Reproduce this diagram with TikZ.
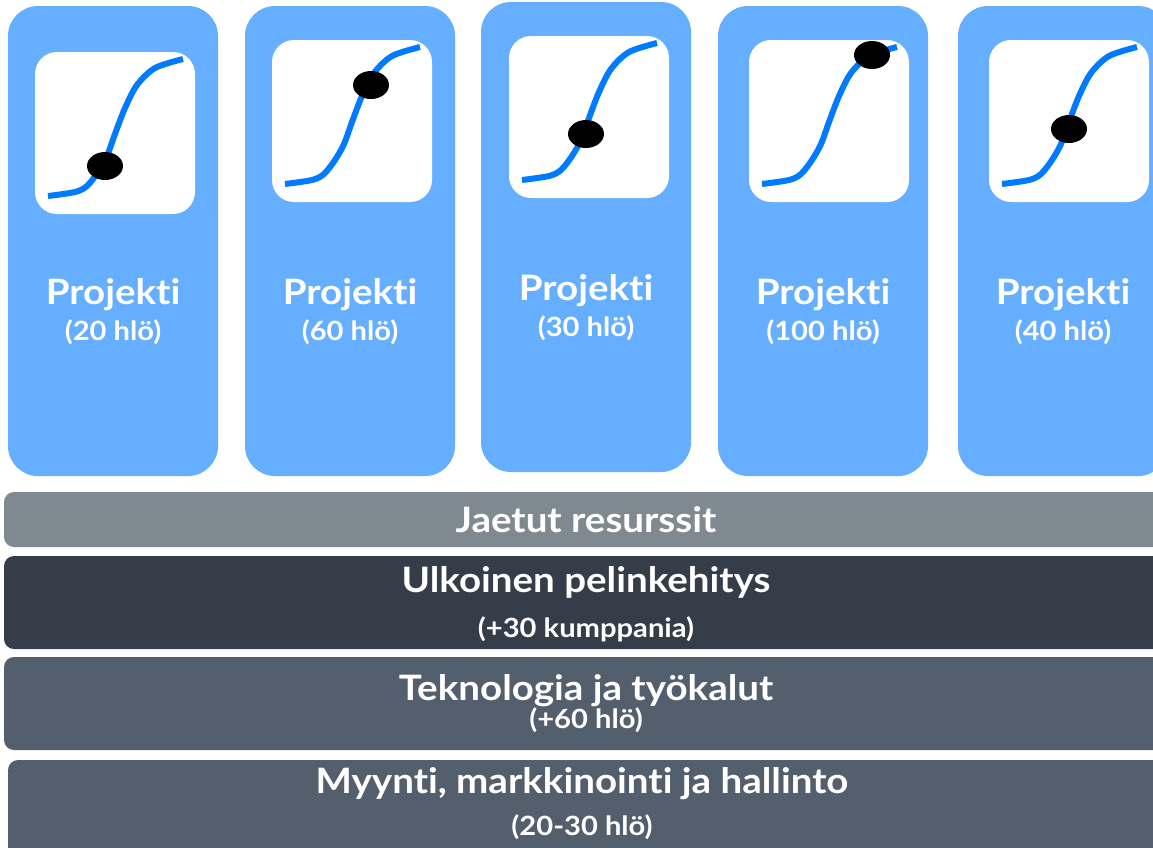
\documentclass[tikz,border=0pt]{standalone}
\usepackage{fontspec}
\setmainfont{Lato}[Ligatures=NoCommon, FakeStretch=1.1]
\definecolor{cardblue}{HTML}{66AEFF}
\definecolor{curveblue}{HTML}{007AFF}
\definecolor{sharedgray}{HTML}{7F8A90}
\definecolor{partnerdark}{HTML}{343D48}
\definecolor{slate}{HTML}{545F6E}
\tikzset{
  card/.style={fill=cardblue, rounded corners=30pt},
  screen/.style={fill=white, rounded corners=22pt},
  bar/.style={rounded corners=10pt},
  title/.style={text=white, anchor=base, inner sep=0pt, font=\bfseries\fontsize{35}{40}\selectfont},
  sub/.style={text=white, anchor=base, inner sep=0pt, font=\bfseries\fontsize{26.5}{30}\selectfont},
  pics/scurve/.style={code={
    \draw[curveblue, line width=6pt] plot[smooth, tension=0.5] coordinates
      {(13,144) (40,140) (52,134) (63,120) (72,104) (80,82) (90,56) (102,33) (120,16) (148,7)};
  }}
}
\begin{document}
\begin{tikzpicture}[x=1pt,y=-1pt]
\useasboundingbox (0,0) rectangle (1153,847);
% project cards
\fill[card] (8,6) rectangle (218,476);
\fill[card] (245,6) rectangle (455,476);
\fill[card] (481,2) rectangle (691,472);
\fill[card] (718,6) rectangle (928,476);
\fill[card] (958,6) rectangle (1168,476);
\fill[screen] (35,52) rectangle (195,214);
\fill[screen] (272,40) rectangle (432,202);
\fill[screen] (509,36) rectangle (669,198);
\fill[screen] (749,40) rectangle (909,202);
\fill[screen] (989,40) rectangle (1149,202);
\pic at (35,52) {scurve};
\pic at (272,40) {scurve};
\pic at (509,36) {scurve};
\pic at (749,40) {scurve};
\pic at (989,40) {scurve};
\fill (105,166) ellipse [x radius=18pt, y radius=14pt];
\fill (371,85) ellipse [x radius=18pt, y radius=14pt];
\fill (586,134) ellipse [x radius=18pt, y radius=14pt];
\fill (872,55) ellipse [x radius=18pt, y radius=14pt];
\fill (1069,129) ellipse [x radius=18pt, y radius=14pt];
\node[title] (p1) at (113,304) {Projekti};
\node[title] (p2) at (350,304) {Projekti};
\node[title] (p3) at (586,300) {Projekti};
\node[title] (p4) at (823,304) {Projekti};
\node[title] (p5) at (1063,304) {Projekti};
\node[sub] (p1n) at (113,340) {(20 hlö)};
\node[sub] (p2n) at (350,340) {(60 hlö)};
\node[sub] (p3n) at (586,336) {(30 hlö)};
\node[sub] (p4n) at (823,340) {(100 hlö)};
\node[sub] (p5n) at (1063,340) {(40 hlö)};
% shared layers
\fill[bar, sharedgray] (4,492) rectangle (1170,547);
\fill[bar, partnerdark] (4,556) rectangle (1170,649);
\fill[bar, slate] (4,657) rectangle (1170,750);
\fill[bar, slate] (8,760) rectangle (1170,870);
\node[title] (shared) at (586,532) {Jaetut resurssit};
\node[title] (ext) at (586,592) {Ulkoinen pelinkehitys};
\node[sub] (extn) at (586,637) {(+30 kumppania)};
\node[title] (tech) at (586,700) {Teknologia ja työkalut};
\node[sub] (techn) at (586,728) {(+60 hlö)};
\node[title] (sales) at (582,793) {Myynti, markkinointi ja hallinto};
\node[sub] (salesn) at (582,835) {(20-30 hlö)};
\end{tikzpicture}
\end{document}
